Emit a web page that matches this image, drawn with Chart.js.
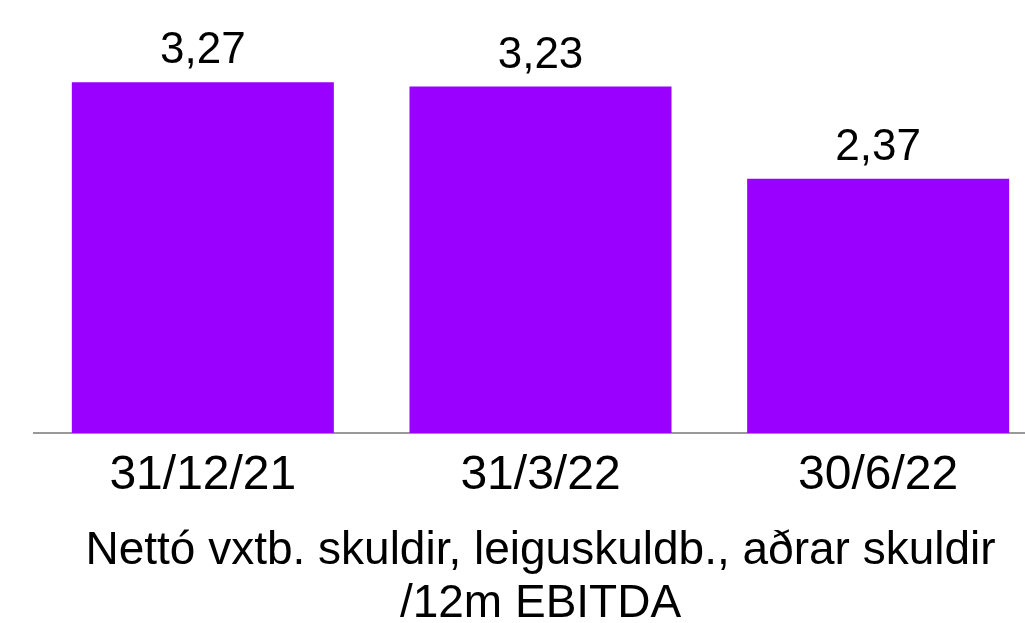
<!DOCTYPE html>
<html>
<head>
<meta charset="utf-8">
<script src="https://cdn.jsdelivr.net/npm/chart.js@4"></script>
<style>
  html, body { margin: 0; padding: 0; background: #fff; overflow: hidden; }
</style>
</head>
<body>
<canvas id="chart" width="1047" height="631"></canvas>
<script>
// Chart data
const categories = ['31/12/21', '31/3/22', '30/6/22'];
const values = [3.27, 3.23, 2.37];
const axisTitle = ['Nettó vxtb. skuldir, leiguskuldb., aðrar skuldir', '/12m EBITDA'];

const fontFamily = '"Liberation Sans", Arial, sans-serif';

// Draw value labels above the bars (Icelandic decimal comma)
const valueLabels = {
  id: 'valueLabels',
  afterDatasetsDraw(chart) {
    const ctx = chart.ctx;
    const meta = chart.getDatasetMeta(0);
    ctx.save();
    ctx.font = '44px ' + fontFamily;
    ctx.fillStyle = '#000';
    ctx.textAlign = 'center';
    ctx.textBaseline = 'alphabetic';
    meta.data.forEach((bar, i) => {
      const txt = values[i].toFixed(2).replace('.', ',');
      ctx.fillText(txt, bar.x, bar.y - 19);
    });
    ctx.restore();
  }
};

const ctx = document.getElementById('chart').getContext('2d');
new Chart(ctx, {
  type: 'bar',
  data: {
    labels: categories,
    datasets: [{
      data: values,
      backgroundColor: '#9900FF',
      borderWidth: 0,
      categoryPercentage: 1,
      barPercentage: 0.776
    }]
  },
  options: {
    responsive: false,
    animation: false,
    layout: { padding: { left: 34, top: 4, right: 0, bottom: 0 } },
    plugins: {
      legend: { display: false },
      tooltip: { enabled: false }
    },
    scales: {
      y: {
        display: false,
        min: 0,
        max: 4
      },
      x: {
        grid: { display: false },
        border: { display: true, color: '#999999', width: 2 },
        ticks: {
          color: '#000',
          padding: 6,
          font: { family: fontFamily, size: 48 }
        },
        title: {
          display: true,
          text: axisTitle,
          color: '#000',
          padding: { top: 0, bottom: 0 },
          font: { family: fontFamily, size: 46, lineHeight: 1.152 }
        },
        afterFit(scale) {
          scale.height = 198;
        }
      }
    }
  },
  plugins: [valueLabels]
});
</script>
</body>
</html>
